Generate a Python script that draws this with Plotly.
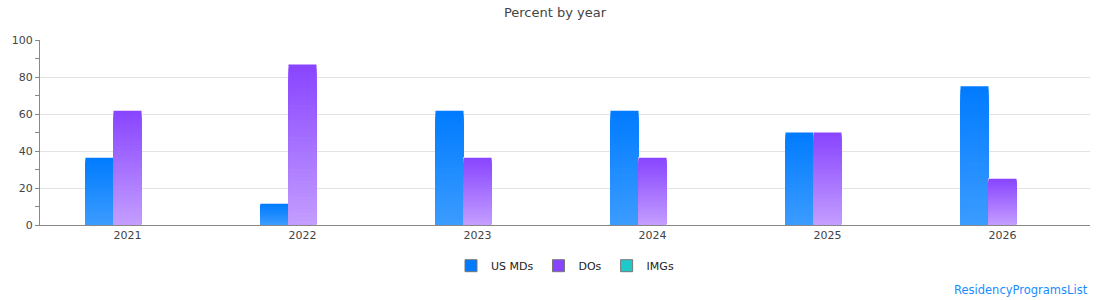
import plotly.graph_objects as go

years = ["2021", "2022", "2023", "2024", "2025", "2026"]
us_mds = [36.4, 11.5, 61.8, 61.8, 50.0, 75.0]
dos = [61.8, 86.7, 36.4, 36.4, 50.0, 25.0]
imgs = [0, 0, 0, 0, 0, 0]

series = [
    ("US MDs", us_mds, (0, 123, 255), (60, 156, 255), "md"),
    ("DOs", dos, (136, 68, 255), (196, 158, 255), "do"),
    ("IMGs", imgs, (32, 201, 201), (120, 225, 225), "img"),
]

K = 40
fig = go.Figure()

for name, vals, top, bot, grp in series:
    # white-outlined backing bar
    fig.add_trace(go.Bar(x=years, y=vals, offsetgroup=grp, showlegend=False,
                         marker=dict(color="white", line=dict(color="white", width=1)),
                         hoverinfo="skip"))
    # layered bars: tallest (darkest) first, shorter lighter ones on top -> gradient
    for i in range(K):
        frac = (K - i) / K
        t = (K - i - 0.5) / K
        c = tuple(round(bot[j] + (top[j] - bot[j]) * t) for j in range(3))
        fig.add_trace(go.Bar(
            x=years, y=[v * frac for v in vals],
            offsetgroup=grp, showlegend=False, hoverinfo="skip",
            marker=dict(color="rgb(%d,%d,%d)" % c, line=dict(width=0))))
    fig.add_trace(go.Bar(x=years, y=[None] * len(years), offsetgroup=grp, name=name,
                         marker=dict(color="rgb(%d,%d,%d)" % top,
                                     line=dict(color="#777", width=1))))

fig.update_layout(
    width=1110, height=300,
    margin=dict(l=40, r=20, t=40, b=75),
    paper_bgcolor="white", plot_bgcolor="white",
    font=dict(family="DejaVu Sans", size=11, color="#444"),
    title=dict(text="Percent by year", x=0.5, xanchor="center", y=1 - 12 / 300,
               yanchor="middle", font=dict(size=13, color="#444")),
    barmode="group", bargap=0.52, bargroupgap=0,
    legend=dict(orientation="h", x=0.5, xanchor="center", y=-0.22, yanchor="middle",
                font=dict(size=11, color="#222"), itemwidth=30, traceorder="normal"),
    showlegend=True,
)
fig.update_xaxes(showline=True, linecolor="#888", linewidth=1, ticks="", showgrid=False,
                 tickfont=dict(size=11, color="#444"))
fig.update_yaxes(range=[0, 100], dtick=20, showline=True, linecolor="#888", linewidth=1,
                 ticks="outside", ticklen=4, tickcolor="#888", gridcolor="#e3e3e3",
                 zeroline=False, tickfont=dict(size=11, color="#444"),
                 minor=dict(dtick=10, ticks="outside", ticklen=4, tickcolor="#888", showgrid=False))

fig.add_annotation(text="ResidencyProgramsList", xref="paper", yref="paper",
                   x=1.0, xanchor="right", y=-(290 - 225) / 185, yanchor="middle",
                   showarrow=False, font=dict(size=11.5, color="#1a8cff"))

fig.write_html("out.html")
